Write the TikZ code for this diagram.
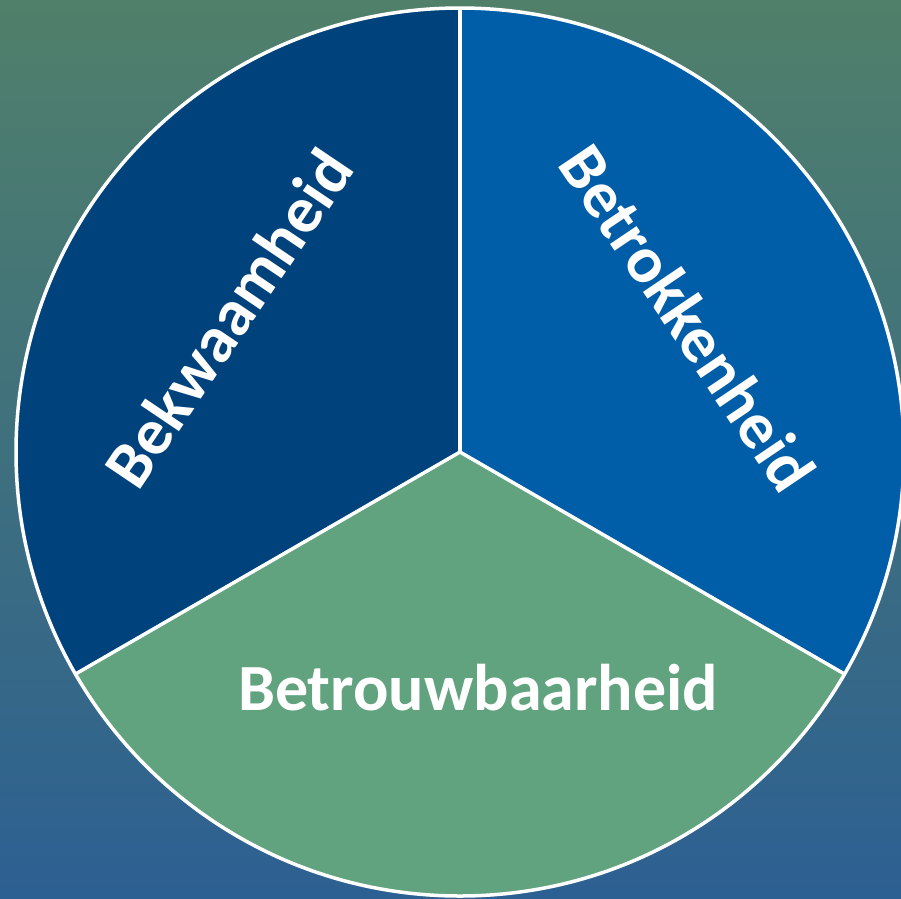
\documentclass[tikz,border=0pt]{standalone}
\usepackage{fontspec}
\setmainfont{Carlito}
\definecolor{bgtop}{RGB}{80,128,106}
\definecolor{bgmid}{RGB}{62,114,122}
\definecolor{bgbot}{RGB}{45,96,146}
\definecolor{secleft}{RGB}{0,67,124}
\definecolor{secright}{RGB}{0,93,168}
\definecolor{secbottom}{RGB}{98,163,127}
\tikzset{
  sector/.style={draw=white, line width=3.5pt, line join=round},
  label/.style={text=white, font=\bfseries\fontsize{66}{66}\selectfont, inner sep=0pt}
}
\begin{document}
\begin{tikzpicture}[x=1pt,y=1pt]
\useasboundingbox (0,0) rectangle (901,-898);
\shade[top color=bgtop, middle color=bgmid, bottom color=bgbot] (0,0) rectangle (901,-898);
\coordinate (c) at (460,-452);
\def\R{444}
\fill[secright] (c) -- ++(90:\R) arc[start angle=90, end angle=-30, radius=\R] -- cycle;
\fill[secleft] (c) -- ++(90:\R) arc[start angle=90, end angle=210, radius=\R] -- cycle;
\fill[secbottom] (c) -- ++(210:\R) arc[start angle=210, end angle=330, radius=\R] -- cycle;
\draw[sector] (c) circle[radius=\R];
\draw[sector] (c) -- ++(90:\R);
\draw[sector] (c) -- ++(210:\R);
\draw[sector] (c) -- ++(330:\R);
\node[label, rotate=56] (bek) at (228,-318) {Bekwaamheid};
\node[label, rotate=-56] (betk) at (688,-318) {Betrokkenheid};
\node[label, anchor=base] (betr) at (478,-710) {Betrouwbaarheid};
\end{tikzpicture}
\end{document}
